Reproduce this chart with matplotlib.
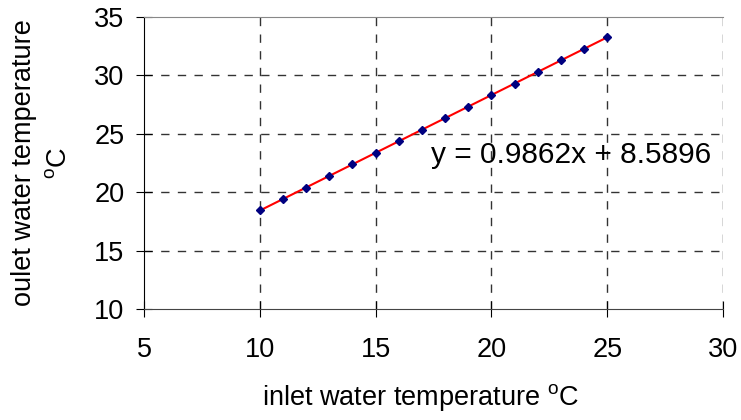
import numpy as np
import matplotlib
matplotlib.use("Agg")
import matplotlib.pyplot as plt

plt.rcParams['font.family'] = ['Liberation Sans', 'DejaVu Sans']
plt.rcParams['mathtext.fontset'] = 'custom'
plt.rcParams['mathtext.rm'] = 'Liberation Sans'

# inlet vs outlet water temperature
inlet = [10, 11, 12, 13, 14, 15, 16, 17, 18, 19, 20, 21, 22, 23, 24, 25]
outlet = [18.45, 19.4, 20.4, 21.4, 22.4, 23.35, 24.35, 25.35, 26.35, 27.3,
          28.3, 29.3, 30.3, 31.3, 32.3, 33.25]
xticks = [5, 10, 15, 20, 25, 30]
yticks = [10, 15, 20, 25, 30, 35]
eq_text = "y = 0.9862x + 8.5896"

fig = plt.figure(figsize=(7.41, 4.2), dpi=100)
ax = fig.add_axes([0.1943, 0.2643, 0.7814, 0.6952])

# linear trendline
coef = np.polyfit(inlet, outlet, 1)
xs = np.array([inlet[0], inlet[-1]])
ax.plot(xs, np.polyval(coef, xs), color='red', lw=1.5, zorder=3)
ax.plot(inlet, outlet, 'D', color='#000080', ms=4.5, zorder=4)

ax.set_xlim(5, 30)
ax.set_ylim(10, 35)
ax.set_xticks(xticks)
ax.set_yticks(yticks)

# dashed grid (interior lines only)
for x in xticks[1:]:
    ax.axvline(x, color='#333333', lw=1, ls=(0, (6, 6)), zorder=1)
for y in yticks[1:-1]:
    ax.axhline(y, color='#333333', lw=1, ls=(0, (6, 6)), zorder=1)

ax.spines['right'].set_visible(False)
ax.spines['top'].set_color('#888888')
ax.spines['left'].set_color('black')
ax.spines['bottom'].set_color('#444444')
ax.tick_params(direction='inout', length=12, labelsize=19.5)
ax.tick_params(axis='x', pad=14)
ax.tick_params(axis='y', pad=8)

ax.text(17.4, 23.2, eq_text, fontsize=21.5, ha='left', va='center')

ax.set_xlabel(r"inlet water temperature $^{\mathrm{o}}$C", fontsize=19.5, va='top')
ax.xaxis.set_label_coords(0.477, -0.25)
ax.set_ylabel("oulet water temperature\n" + r"$^{\mathrm{o}}$C", fontsize=19.5,
              linespacing=1.45)
ax.yaxis.set_label_coords(-0.124, 0.5)

fig.savefig("out.png", dpi=100)
